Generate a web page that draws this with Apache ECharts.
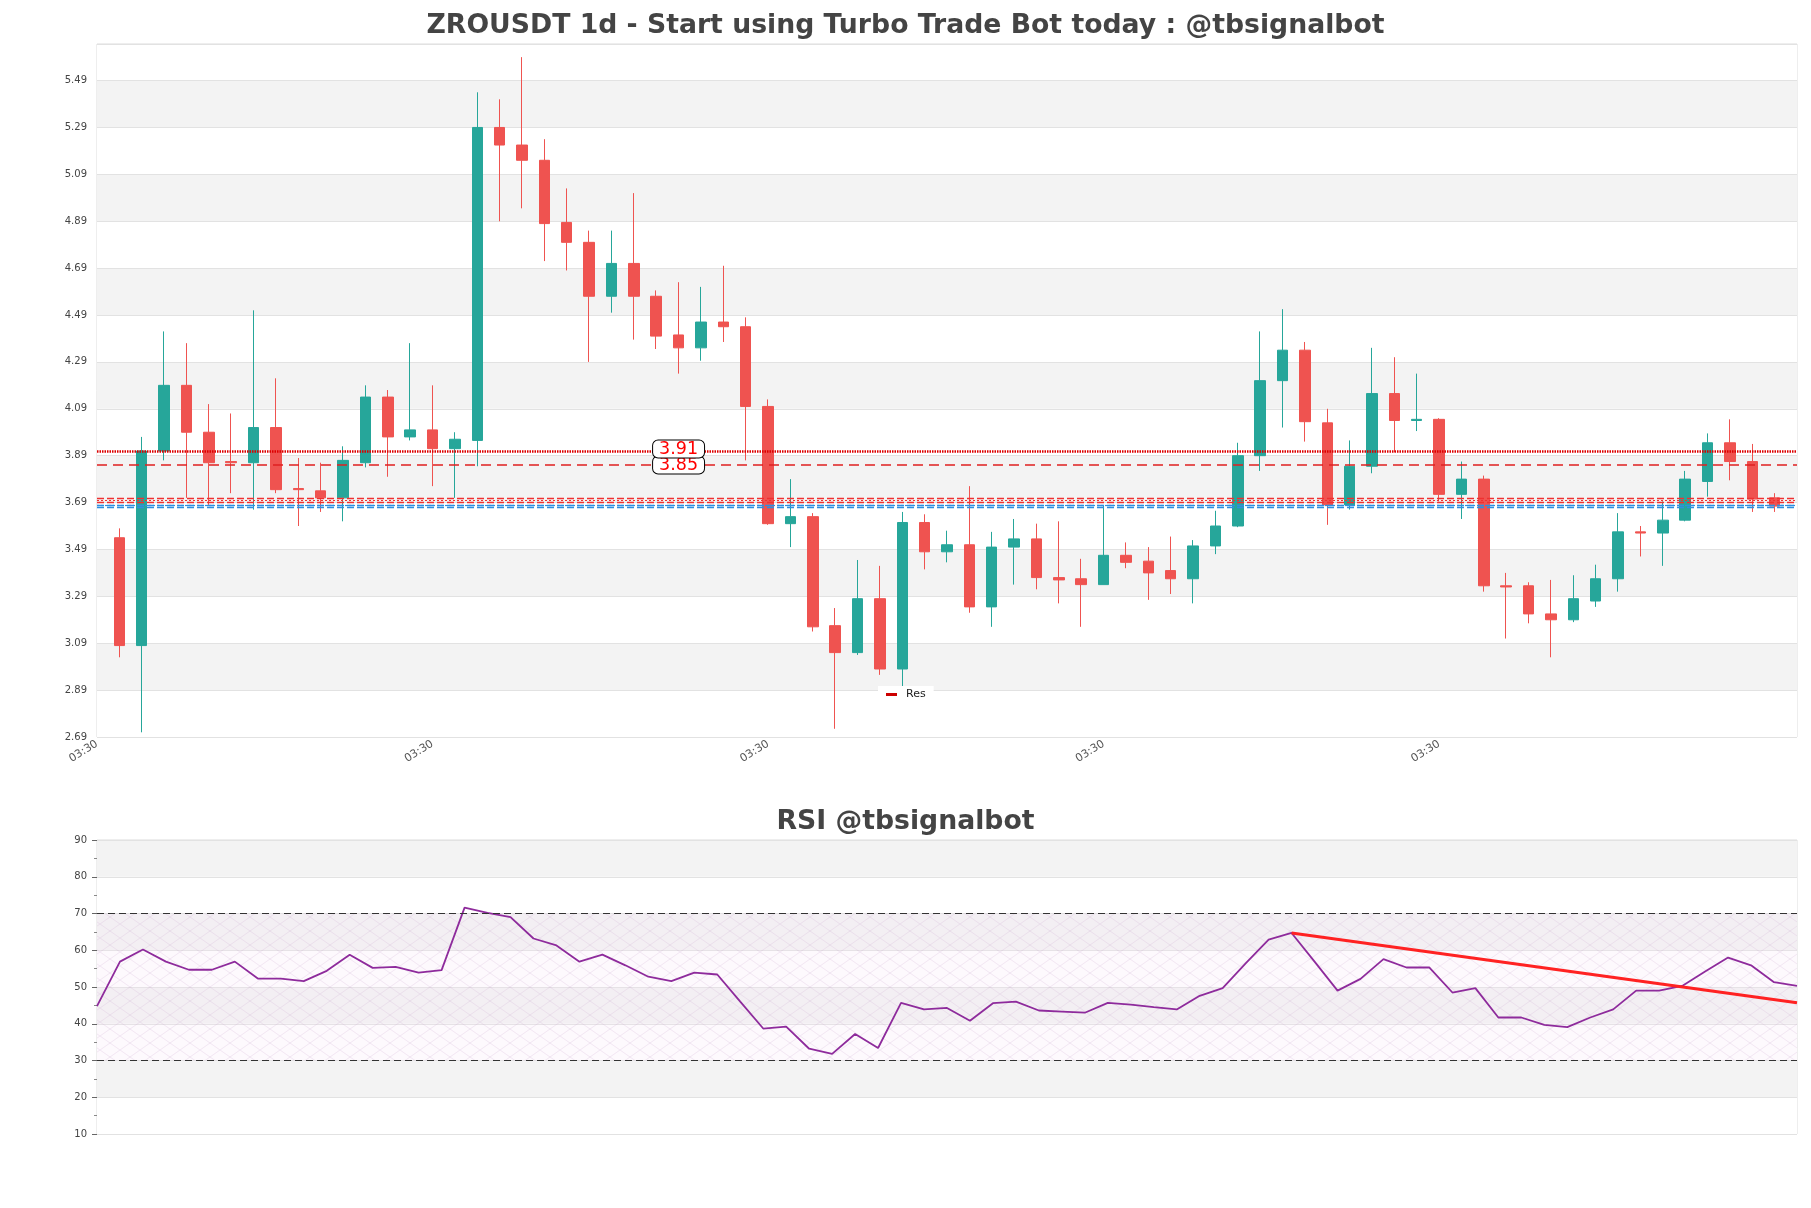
<!DOCTYPE html>
<html>
<head>
<meta charset="utf-8">
<script src="https://cdn.jsdelivr.net/npm/echarts@6/dist/echarts.min.js"></script>
<style>html,body{margin:0;padding:0;background:#fff}#c{width:1811px;height:1208px}</style>
</head>
<body>
<div id="c"></div>
<script>
const mainTitle = 'ZROUSDT 1d - Start using Turbo Trade Bot today : @tbsignalbot';
const rsiTitle = 'RSI @tbsignalbot';

// candle x categories (one empty slot on each side), tick label positions
const categories = Array.from({length: 77}, () => '03:30');
const xTickIndex = [0, 15, 30, 45, 60];
const rsiCategories = Array.from({length: 75}, (_, i) => String(i));

const open  = [3.54,3.08,3.91,4.19,3.99,3.865,3.86,4.01,3.75,3.74,3.71,3.86,4.14,3.97,4.00,3.92,3.955,5.29,5.215,5.15,4.885,4.80,4.57,4.71,4.57,4.405,4.35,4.46,4.44,4.10,3.60,3.63,3.165,3.05,3.28,2.98,3.605,3.48,3.51,3.245,3.50,3.535,3.37,3.365,3.34,3.465,3.44,3.40,3.365,3.505,3.59,3.89,4.21,4.34,4.03,3.68,3.845,4.155,4.04,4.045,3.725,3.79,3.335,3.335,3.215,3.19,3.27,3.365,3.565,3.56,3.615,3.78,3.945,3.865,3.71];
const close = [3.08,3.91,4.19,3.99,3.86,3.86,4.01,3.745,3.745,3.71,3.87,4.14,3.97,4.00,3.92,3.96,5.29,5.215,5.15,4.88,4.80,4.57,4.71,4.57,4.40,4.35,4.46,4.44,4.10,3.60,3.63,3.16,3.05,3.28,2.98,3.605,3.48,3.51,3.245,3.50,3.535,3.37,3.36,3.34,3.465,3.435,3.39,3.365,3.505,3.59,3.89,4.21,4.34,4.035,3.68,3.845,4.155,4.04,4.045,3.725,3.79,3.335,3.33,3.215,3.19,3.28,3.365,3.565,3.56,3.615,3.79,3.945,3.865,3.705,3.675];
const low   = [3.03,2.71,3.87,3.71,3.68,3.73,3.66,3.73,3.59,3.65,3.61,3.84,3.80,3.955,3.76,3.71,3.845,4.89,4.945,4.72,4.68,4.29,4.50,4.385,4.345,4.24,4.295,4.375,3.87,3.595,3.50,3.14,2.725,3.04,2.955,2.905,3.405,3.435,3.22,3.16,3.34,3.32,3.26,3.16,3.34,3.41,3.275,3.30,3.26,3.47,3.585,3.825,4.01,3.95,3.595,3.66,3.815,3.905,3.995,3.695,3.62,3.31,3.11,3.175,3.03,3.18,3.245,3.31,3.46,3.42,3.61,3.715,3.785,3.65,3.65];
const high  = [3.58,3.97,4.42,4.37,4.11,4.07,4.51,4.22,3.88,3.86,3.93,4.19,4.17,4.37,4.19,3.99,5.44,5.41,5.59,5.24,5.03,4.85,4.85,5.01,4.595,4.63,4.61,4.70,4.48,4.13,3.79,3.645,3.24,3.445,3.42,3.65,3.64,3.57,3.76,3.565,3.62,3.60,3.61,3.45,3.675,3.52,3.50,3.545,3.53,3.655,3.945,4.42,4.515,4.375,4.09,3.955,4.35,4.31,4.24,4.05,3.865,3.805,3.39,3.35,3.36,3.38,3.425,3.645,3.59,3.695,3.825,3.985,4.045,3.94,3.73];

const rsi = [44.8,56.9,60.2,56.9,54.7,54.7,56.9,52.3,52.3,51.6,54.4,58.8,55.2,55.5,53.9,54.6,71.6,70.2,69.0,63.2,61.3,56.9,58.8,55.9,52.8,51.6,53.9,53.4,46.0,38.7,39.2,33.2,31.8,37.2,33.4,45.7,43.9,44.3,40.8,45.6,46.0,43.6,43.3,43.0,45.7,45.2,44.5,43.9,47.6,49.7,56.4,62.9,64.7,56.9,49.0,52.2,57.6,55.3,55.3,48.5,49.7,41.7,41.7,39.7,39.1,41.7,43.9,49.0,49.0,50.3,54.2,58.0,55.9,51.3,50.3];

const resLevels = [3.91, 3.85];          // labelled resistance lines
const resLabelIndex = 26;                 // category where the labels sit
const redBand = [3.712, 3.7035, 3.695];   // hatched red lines
const blueBand = [3.684, 3.6755, 3.667];  // hatched blue lines
const rsiBounds = [70, 30];
const rsiTrendStart = [52, 64.7];
const rsiTrendEnd = [74, 45.7];

const candleData = [['-','-','-','-']]
  .concat(open.map((o, i) => [o, close[i], low[i], high[i]]))
  .concat([['-','-','-','-']]);

function hatch() {
  const c = document.createElement('canvas');
  c.width = 20; c.height = 14;
  const g = c.getContext('2d');
  g.fillStyle = 'rgba(244,228,248,0.22)';
  g.fillRect(0, 0, 20, 14);
  g.strokeStyle = 'rgba(190,150,200,0.32)';
  g.lineWidth = 0.6;
  g.beginPath();
  g.moveTo(0, 0); g.lineTo(20, 14);
  g.moveTo(20, 0); g.lineTo(0, 14);
  g.stroke();
  return c;
}

function bandLines(vals, color) {
  return [
    {yAxis: vals[0], lineStyle: {color: color, width: 1.3, type: [7, 3]}},
    {yAxis: vals[1], lineStyle: {color: color, width: 1.2, type: [2, 2]}},
    {yAxis: vals[2], lineStyle: {color: color, width: 1.3, type: [7, 3]}}
  ];
}

const font = 'DejaVu Sans';
const chart = echarts.init(document.getElementById('c'), null, {renderer: 'canvas'});
const option = {
  animation: false,
  backgroundColor: '#fff',
  textStyle: {fontFamily: font},
  title: [
    {text: mainTitle, left: 'center', top: 7.5,
     textStyle: {fontSize: 26.7, fontWeight: 'bold', color: '#444', fontFamily: font}},
    {text: rsiTitle, left: 'center', top: 803.5,
     textStyle: {fontSize: 26.7, fontWeight: 'bold', color: '#444', fontFamily: font}}
  ],
  legend: {
    data: ['Res'], left: 878, top: 686, backgroundColor: '#fff', padding: [3, 8],
    icon: 'rect', itemWidth: 11, itemHeight: 3,
    textStyle: {fontSize: 11, color: '#222', fontFamily: font, padding: [0, 0, 0, 4]}
  },
  grid: [
    {left: 97, right: 14, top: 44, height: 693, show: true, borderColor: '#ddd', borderWidth: 1},
    {left: 97, right: 14, top: 840, height: 294, show: true, borderColor: '#ddd', borderWidth: 1}
  ],
  xAxis: [
    {type: 'category', gridIndex: 0, data: categories, boundaryGap: false,
     axisLine: {show: false}, axisTick: {show: false}, splitLine: {show: false},
     axisLabel: {interval: (i) => xTickIndex.includes(i), rotate: 32, fontSize: 11, color: '#555', margin: 6, fontFamily: font}},
    {type: 'category', gridIndex: 1, data: rsiCategories, boundaryGap: false,
     axisLine: {show: false}, axisTick: {show: false}, axisLabel: {show: false}, splitLine: {show: false}}
  ],
  yAxis: [
    {type: 'value', gridIndex: 0, min: 2.69, max: 5.646, interval: 0.2, scale: true,
     axisLine: {show: false}, axisTick: {show: false},
     axisLabel: {fontSize: 10, color: '#444', margin: 10, showMaxLabel: false, fontFamily: font,
                 formatter: (v) => v.toFixed(2)},
     splitLine: {show: true, lineStyle: {color: '#e2e2e2', width: 1}},
     splitArea: {show: true, areaStyle: {color: ['#ffffff', '#f3f3f3']}}},
    {type: 'value', gridIndex: 1, min: 10, max: 90, interval: 10,
     axisLine: {show: false},
     axisTick: {show: true, length: 5, lineStyle: {color: '#666'}},
     minorTick: {show: true, splitNumber: 2, length: 3, lineStyle: {color: '#888'}},
     axisLabel: {fontSize: 10, color: '#444', margin: 10, fontFamily: font},
     splitLine: {show: true, lineStyle: {color: '#e2e2e2', width: 1}},
     splitArea: {show: true, areaStyle: {color: ['#ffffff', '#f3f3f3']}}}
  ],
  series: [
    {
      type: 'candlestick', name: 'ZROUSDT', xAxisIndex: 0, yAxisIndex: 0,
      data: candleData, barWidth: 11, silent: true,
      itemStyle: {color: '#26a69a', color0: '#ef5350', borderColor: '#26a69a', borderColor0: '#ef5350', borderWidth: 1},
      markLine: {
        silent: true, symbol: 'none', label: {show: false},
        data: [
          {yAxis: resLevels[0], lineStyle: {color: '#dd0000', width: 2.5, type: [1.5, 1]}},
          {yAxis: resLevels[1], lineStyle: {color: '#e02020', width: 1.5, type: [10, 6]}}
        ].concat(bandLines(redBand, '#f03030')).concat(bandLines(blueBand, '#2f8fe0'))
      },
      markPoint: {
        silent: true, symbol: 'rect', symbolSize: 0.1,
        label: {show: true, position: 'inside', formatter: '{b}', color: '#ff0000', fontSize: 17.5, fontFamily: font,
                backgroundColor: '#fff', borderColor: '#000', borderWidth: 1, borderRadius: 5,
                padding: [0, 6], lineHeight: 17},
        data: [
          {name: resLevels[1].toFixed(2), coord: [resLabelIndex, resLevels[1]]},
          {name: resLevels[0].toFixed(2), coord: [resLabelIndex, resLevels[0]], label: {offset: [0, -2]}}
        ]
      }
    },
    {type: 'line', name: 'Res', xAxisIndex: 0, yAxisIndex: 0, data: [],
     itemStyle: {color: '#cc0000'}, lineStyle: {color: '#cc0000'}},
    {
      type: 'line', name: 'RSI', xAxisIndex: 1, yAxisIndex: 1, data: rsi,
      symbol: 'none', silent: true,
      lineStyle: {color: '#8e2b9c', width: 1.8},
      markArea: {
        silent: true,
        itemStyle: {color: {image: hatch(), repeat: 'repeat'}},
        data: [[{yAxis: rsiBounds[0]}, {yAxis: rsiBounds[1]}]]
      },
      markLine: {
        silent: true, symbol: 'none', label: {show: false},
        data: [
          {yAxis: rsiBounds[0], lineStyle: {color: '#333', width: 1.2, type: [7, 4]}},
          {yAxis: rsiBounds[1], lineStyle: {color: '#333', width: 1.2, type: [7, 4]}},
          [{coord: rsiTrendStart, lineStyle: {color: '#ff2222', width: 3, type: 'solid'}},
           {coord: rsiTrendEnd, lineStyle: {color: '#ff2222', width: 3, type: 'solid'}}]
        ]
      }
    }
  ]
};
chart.setOption(option);
</script>
</body>
</html>
